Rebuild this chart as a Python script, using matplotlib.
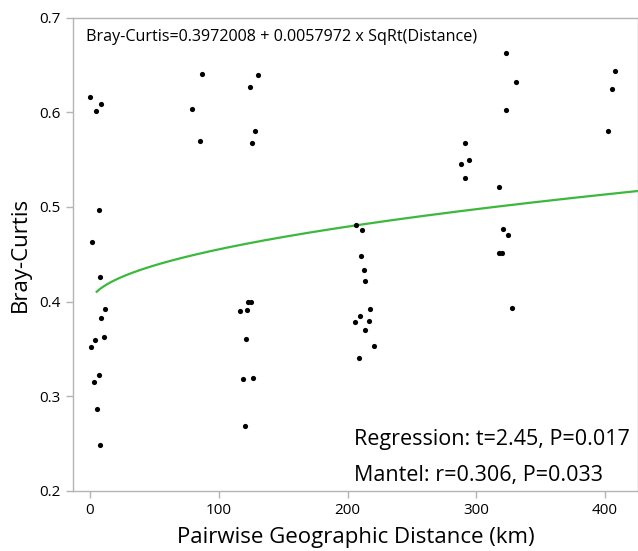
import matplotlib
matplotlib.use("Agg")
import matplotlib.pyplot as plt
import numpy as np

plt.rcParams['font.family'] = ['Open Sans', 'DejaVu Sans']

# Pairwise geographic distance (km) and Bray-Curtis dissimilarity
distance = [0.2, 4.7, 8.5, 6.7, 1.3, 7.8, 11.7, 8.5, 10.6, 3.9, 1.0, 7.2, 2.9, 5.2, 8.0,
            79.0, 87.2, 85.2,
            124.3, 130.7, 127.9, 125.8, 116.8, 121.9, 122.6, 125.0, 120.9, 118.6, 126.9, 120.6,
            206.9, 211.3, 210.2, 212.8, 213.3, 217.7, 209.5, 206.1, 216.4, 213.8, 220.3, 208.7,
            291.0, 288.4, 294.4, 291.0,
            322.9, 330.6, 323.4, 317.4, 320.8, 324.9, 317.4, 320.2, 327.5,
            407.8, 405.2, 402.3]
bray_curtis = [0.616, 0.601, 0.609, 0.497, 0.4625, 0.4255, 0.392, 0.3825, 0.363, 0.359, 0.352, 0.322, 0.315, 0.287, 0.249,
               0.603, 0.640, 0.570,
               0.627, 0.639, 0.580, 0.568, 0.3896, 0.391, 0.400, 0.400, 0.360, 0.318, 0.319, 0.269,
               0.4805, 0.476, 0.448, 0.433, 0.422, 0.392, 0.385, 0.378, 0.379, 0.370, 0.353, 0.340,
               0.568, 0.545, 0.550, 0.5305,
               0.663, 0.632, 0.602, 0.521, 0.477, 0.470, 0.451, 0.451, 0.393,
               0.644, 0.625, 0.580]

intercept = 0.3972008
slope = 0.0057972
fit_start, fit_end = 5.2, 430.0

xticks = [0, 100, 200, 300, 400]
yticks = [0.2, 0.3, 0.4, 0.5, 0.6, 0.7]

W, H = 638, 551
fig = plt.figure(figsize=(W / 100, H / 100), dpi=100)
ax = fig.add_axes([73 / W, 1 - 491 / H, 1 - 73 / W, (491 - 17.5) / H])

ax.scatter(distance, bray_curtis, s=14, color='black', zorder=3, linewidths=0)

fx = np.linspace(fit_start, fit_end, 400)
ax.plot(fx, intercept + slope * np.sqrt(fx), color='#3cb83c', lw=1.6, zorder=2)

ax.set_xlim(-13.2, 425.6)
ax.set_ylim(0.2, 0.7)
ax.set_xticks(xticks)
ax.set_yticks(yticks)
ax.set_xticklabels([str(t) for t in xticks])
ax.set_yticklabels([f"{t:.1f}" for t in yticks])

spine_col = '#b4b4b4'
for s in ax.spines.values():
    s.set_color(spine_col)
    s.set_linewidth(1.0)
ax.tick_params(direction='out', length=5, width=1.0, color=spine_col,
               labelsize=11, labelcolor='black', pad=4)

ax.set_xlabel('Pairwise Geographic Distance (km)', fontsize=16, labelpad=6)
ax.set_ylabel('Bray-Curtis', fontsize=16, labelpad=6)

ax.text(0.023, 0.975, 'Bray-Curtis=0.3972008 + 0.0057972 x SqRt(Distance)',
        transform=ax.transAxes, fontsize=11.6, va='top', ha='left')
ax.text(0.497, 0.098, 'Regression: t=2.45, P=0.017', transform=ax.transAxes,
        fontsize=15.5, va='baseline', ha='left')
ax.text(0.497, 0.021, 'Mantel: r=0.306, P=0.033', transform=ax.transAxes,
        fontsize=15.5, va='baseline', ha='left')

fig.savefig('out.png', dpi=100)
